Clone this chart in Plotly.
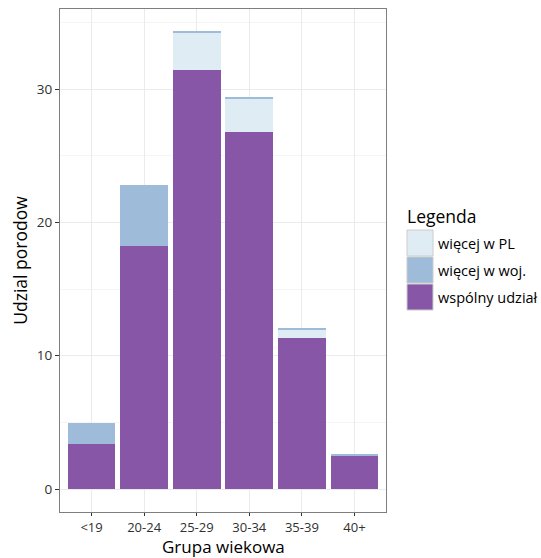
import plotly.graph_objects as go

categories = ["<19", "20-24", "25-29", "30-34", "35-39", "40+"]
wspolny = [3.4, 18.2, 31.4, 26.75, 11.35, 2.5]
wiecej_pl = [0.0, 0.0, 2.85, 2.55, 0.6, 0.0]
wiecej_woj = [1.55, 4.6, 0.08, 0.08, 0.08, 0.08]

legend_title = "Legenda"
legend_labels = ["więcej w PL", "więcej w woj.", "wspólny udział"]

col_wsp = "#8856a7"
col_pl = "#e0ecf4"
col_woj = "#9ebcda"
legend_colors = [col_pl, col_woj, col_wsp]

fig = go.Figure()
fig.add_trace(go.Bar(x=categories, y=wspolny, name="wspólny udział",
                     marker=dict(color=col_wsp, line=dict(width=0))))
fig.add_trace(go.Bar(x=categories, y=wiecej_pl, name="więcej w PL",
                     marker=dict(color=col_pl, line=dict(width=0))))
fig.add_trace(go.Bar(x=categories, y=wiecej_woj, name="więcej w woj.",
                     marker=dict(color=col_woj, line=dict(width=0))))

# pixel geometry of the panel
L, R, T, B = 60, 386, 9, 512
W, H = 541, 558
pw, ph = R - L, B - T


def px_x(x):
    return (x - L) / pw


def px_y(y):
    return (B - y) / ph


shapes = []
annotations = []
key_x0, key_x1 = 407, 433
key_tops = [230, 257, 284]
key_h = 26
for lab, c, top in zip(legend_labels, legend_colors, key_tops):
    shapes.append(dict(type="rect", xref="paper", yref="paper",
                       x0=px_x(key_x0), x1=px_x(key_x1),
                       y0=px_y(top + key_h), y1=px_y(top),
                       fillcolor=c, line=dict(color="#cccccc", width=1)))
    annotations.append(dict(text=lab, xref="paper", yref="paper",
                            x=px_x(436), y=px_y(top + key_h / 2),
                            xanchor="left", yanchor="middle", showarrow=False,
                            font=dict(size=14.5, color="#000000")))
annotations.append(dict(text=legend_title, xref="paper", yref="paper",
                        x=px_x(405), y=px_y(216), xanchor="left", yanchor="middle",
                        showarrow=False, font=dict(size=17.5, color="#000000")))
annotations.append(dict(text="Grupa wiekowa", xref="paper", yref="paper",
                        x=0.5, y=px_y(546.5), xanchor="center", yanchor="middle",
                        showarrow=False, borderpad=0,
                        font=dict(size=17, color="#000000")))

font = "Open Sans, DejaVu Sans, sans-serif"
fig.update_layout(
    width=W, height=H,
    barmode="stack", bargap=0.09,
    paper_bgcolor="white", plot_bgcolor="white",
    margin=dict(l=L, r=W - R, t=T, b=H - B, autoexpand=False),
    font=dict(family=font, color="#000000", size=12),
    showlegend=False,
    shapes=shapes, annotations=annotations,
)
fig.update_xaxes(
    range=[-0.6, 5.6], showgrid=True, gridcolor="#ebebeb", gridwidth=1,
    showline=True, linecolor="#7f7f7f", linewidth=1, mirror=True,
    ticks="outside", ticklen=3, tickcolor="#333333", automargin=False,
    tickfont=dict(size=13, color="#303030"),
)
fig.update_yaxes(
    range=[-1.715, 36.0], tickvals=[0, 10, 20, 30], showgrid=True,
    gridcolor="#ebebeb", gridwidth=1, zeroline=False, automargin=False,
    minor=dict(tickvals=[5, 15, 25, 35], showgrid=True, gridcolor="#f5f5f5", gridwidth=1),
    showline=True, linecolor="#7f7f7f", linewidth=1, mirror=True,
    ticks="outside", ticklen=4, tickcolor="#333333",
    tickfont=dict(size=13.5, color="#303030"),
    title=dict(text="Udzial porodow", font=dict(size=17.5), standoff=4),
)

fig.write_html("out.html", config={"displayModeBar": False},
               post_script="document.body.style.margin='0';document.body.style.overflow='hidden';")
